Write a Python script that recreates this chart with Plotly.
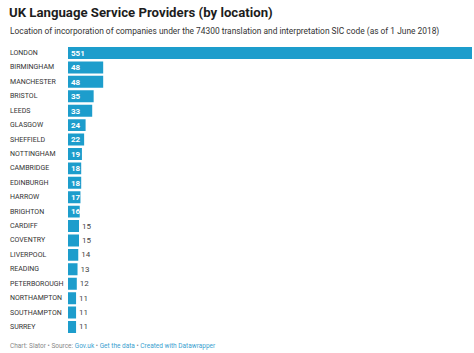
import plotly.graph_objects as go

cities = ["LONDON", "BIRMINGHAM", "MANCHESTER", "BRISTOL", "LEEDS", "GLASGOW",
          "SHEFFIELD", "NOTTINGHAM", "CAMBRIDGE", "EDINBURGH", "HARROW", "BRIGHTON",
          "CARDIFF", "COVENTRY", "LIVERPOOL", "READING", "PETERBOROUGH",
          "NORTHAMPTON", "SOUTHAMPTON", "SURREY"]
counts = [551, 48, 48, 35, 33, 24, 22, 19, 18, 18, 17, 16, 15, 15, 14, 13, 12, 11, 11, 11]

title = "UK Language Service Providers (by location)"
subtitle = "Location of incorporation of companies under the 74300 translation and interpretation SIC code (as of 1 June 2018)"

W, H = 474, 353
BAR = "#1d9dcc"
FONT = "Roboto"

positions = ["inside" if v >= 16 else "outside" for v in counts]
texts = ["<b>%d</b>" % v if v >= 16 else str(v) for v in counts]

fig = go.Figure(go.Bar(
    x=counts, y=cities, orientation="h",
    marker=dict(color=BAR, line=dict(width=0)),
    text=texts,
    textposition=positions,
    insidetextanchor="start",
    textangle=0,
    insidetextfont=dict(family=FONT, size=8.5, color="white"),
    outsidetextfont=dict(family=FONT, size=8, color="#444"),
    cliponaxis=False,
    hoverinfo="skip",
))

top_px, bot_px = 45.8, 334.2
fig.update_layout(
    width=W, height=H,
    margin=dict(l=0, r=0, t=0, b=0),
    paper_bgcolor="white", plot_bgcolor="white",
    showlegend=False,
    bargap=0.17,
    uniformtext=dict(minsize=8, mode="show"),
    font=dict(family=FONT),
    xaxis=dict(domain=[68 / W, 472 / W], range=[0, 551], visible=False, fixedrange=True),
    yaxis=dict(domain=[1 - bot_px / H, 1 - top_px / H], autorange=False,
               range=[len(cities) - 0.5, -0.5], visible=False,
               categoryorder="array", categoryarray=cities),
)

annotations = []
for c in cities:
    annotations.append(dict(
        x=8 / W, xref="paper", y=c, yref="y", text=c, showarrow=False,
        xanchor="left", yanchor="middle",
        font=dict(family=FONT, size=7, color="#333")))

annotations.append(dict(
    x=7 / W, y=1 - 12 / H, xref="paper", yref="paper", text="<b>" + title + "</b>",
    showarrow=False, xanchor="left", yanchor="middle",
    font=dict(family=FONT, size=13.2, color="#1d1d1d")))
annotations.append(dict(
    x=8 / W, y=1 - 31 / H, xref="paper", yref="paper", text=subtitle, showarrow=False,
    xanchor="left", yanchor="middle",
    font=dict(family=FONT, size=8.4, color="#333")))
link = "#3a9fd0"
footer = ("Chart: Slator • Source: <span style='color:%s'>Gov.uk</span> • "
          "<span style='color:%s'>Get the data</span> • "
          "<span style='color:%s'>Created with Datawrapper</span>") % (link, link, link)
annotations.append(dict(
    x=8 / W, y=1 - 346 / H, xref="paper", yref="paper", text=footer, showarrow=False,
    xanchor="left", yanchor="middle",
    font=dict(family=FONT, size=6.5, color="#888")))

fig.update_layout(annotations=annotations)
fig.write_html("out.html", config={"displayModeBar": False})
